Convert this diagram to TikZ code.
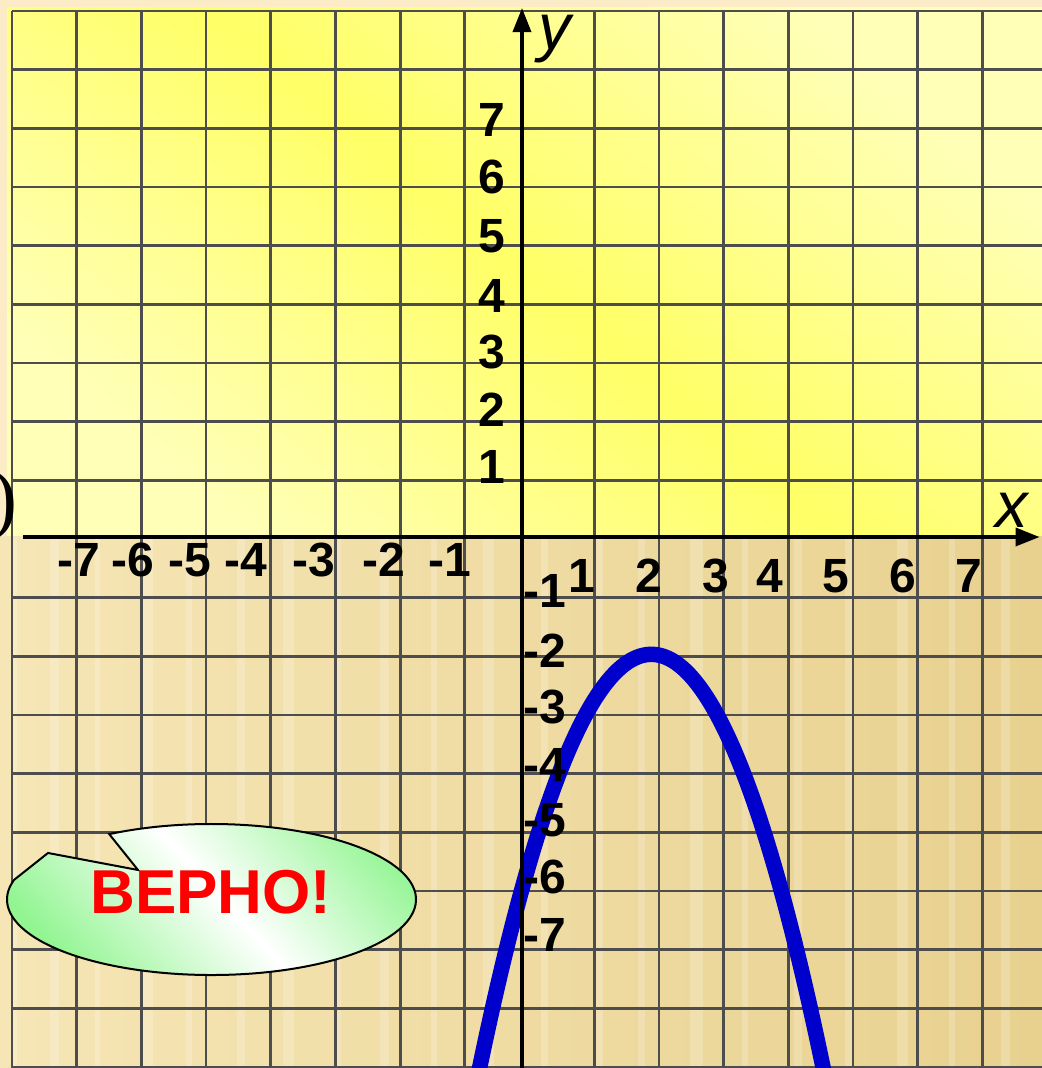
\documentclass[tikz,border=0pt]{standalone}
\usepackage{fontspec}
\setmainfont{Liberation Sans}
\newfontfamily\parenfont{Liberation Serif}
\usetikzlibrary{arrows.meta}
\definecolor{PaleBeige}{HTML}{FBEBC6}
\definecolor{WoodLight}{HTML}{F6E6B6}
\definecolor{WoodDark}{HTML}{E8D18F}
\definecolor{PaleYellow}{HTML}{FFFFB8}
\definecolor{BrightYellow}{HTML}{FFFF66}
\definecolor{GridGray}{HTML}{4D4D4D}
\definecolor{CurveBlue}{HTML}{0000CC}
\definecolor{BubbleGreen}{HTML}{92F592}
\definecolor{AnswerRed}{HTML}{FF0000}

\begin{document}
\begin{tikzpicture}[
  x=32.35pt, y=29.335pt,
  gridline/.style={draw=GridGray, line width=1.4pt},
  axisline/.style={-{Triangle[length=12pt, width=9pt]}, line width=1.8pt, draw=black},
  ticklabel/.style={font=\fontsize{24}{25}\selectfont\bfseries, inner sep=0pt},
  axislabel/.style={font=\fontsize{32.5}{33}\selectfont\itshape, inner sep=0pt},
  bubble/.style={draw=black, line width=1pt, top color=BubbleGreen,
    bottom color=BubbleGreen, middle color=white, shading angle=-48}
]
\useasboundingbox (-8.068,-9.051) rectangle (8.037,9.153);
\clip (-8.068,-9.051) rectangle (8.037,9.153);

% backgrounds
\fill[PaleBeige] (-8.068,-9.051) rectangle (8.037,9.153);
\shade[top color=PaleYellow, bottom color=PaleYellow, middle color=BrightYellow,
  shading angle=-40] (-7.96,0) rectangle (8.037,9.033);
\shade[left color=WoodLight, right color=WoodDark] (-8.068,-9.051) rectangle (8.037,0);
\foreach \s/\w in {-7.9/0.1, -7.3/0.15, -6.6/0.08, -5.9/0.2, -5.2/0.1, -4.4/0.12,
    -3.7/0.18, -2.9/0.1, -2.2/0.14, -1.4/0.09, -0.6/0.16, 0.3/0.1, 1.1/0.15,
    1.8/0.1, 2.6/0.2, 3.4/0.1, 4.2/0.13, 5.0/0.1, 5.8/0.17, 6.6/0.1, 7.4/0.14}
  \fill[white, opacity=0.2] (\s,-9.051) rectangle ++(\w,9.051);

% grid
\begin{scope}[shift={(0.1175,-0.034)}]
  \foreach \i in {-8,...,7}{
    \ifnum\i=0\else\draw[gridline] (\i,-9.1) -- (\i,9);\fi
  }
  \foreach \j in {-9,...,9}{
    \ifnum\j=0\else\draw[gridline] (-8,\j) -- (8,\j);\fi
  }
\end{scope}

% graph
\draw[CurveBlue, line width=7.75pt, domain=-0.75:4.75, samples=80, smooth]
  plot (\x,{-(\x-2)^2-2});

% axes
\coordinate (xfrom) at (-7.713,0);
\coordinate (xto) at (8.0,0);
\coordinate (yfrom) at (0,-9.1);
\coordinate (yto) at (0,9.016);
\draw[axisline] (xfrom) -- (xto);
\draw[axisline] (yfrom) -- (yto);
\node[axislabel] (xname) at (7.573,0.46) {x};
\node[axislabel] (yname) at (0.51,8.49) {y};

% tick labels
\foreach \t/\p [count=\k] in {7/-6.847, 6/-6.012, 5/-5.131, 4/-4.266, 3/-3.215, 2/-2.133, 1/-1.113}
  \node[ticklabel] (xneg\k) at (\p,-0.392) {-\t};
\foreach \t/\p in {1/0.921, 2/1.963, 3/2.998, 4/3.827, 5/4.853, 6/5.889, 7/6.909}
  \node[ticklabel] (xpos\t) at (\p,-0.665) {\t};
\foreach \t/\p in {1/1.193, 2/2.165, 3/3.153, 4/4.108, 5/5.130, 6/6.136, 7/7.108}
  \node[ticklabel] (ypos\t) at (-0.468,\p) {\t};
\foreach \t/\p in {1/-0.920, 2/-1.943, 3/-2.898, 4/-3.886, 5/-4.824, 6/-5.795, 7/-6.784}
  \node[ticklabel] (yneg\t) at (0.36,\p) {-\t};

% callout
\coordinate (bc) at (-4.799,-6.179);
\coordinate (tailtip) at (-7.326,-5.386);
\coordinate (tailnotch) at (-5.935,-5.676);
\draw[bubble] (tailtip) -- (tailnotch) -- ([shift={(120:102.25pt and 37.75pt)}]bc)
  arc[start angle=120, end angle=-195, x radius=102.25pt, y radius=37.75pt] -- cycle;
\node[font=\fontsize{31}{32}\selectfont\bfseries, text=AnswerRed, inner sep=0pt]
  (verno) at (-4.807,-6.051) {ВЕРНО!};

\node[font=\parenfont\fontsize{39}{40}\selectfont, anchor=east, inner sep=0pt]
  (paren) at (-7.79,0.53) {)};
\end{tikzpicture}
\end{document}
